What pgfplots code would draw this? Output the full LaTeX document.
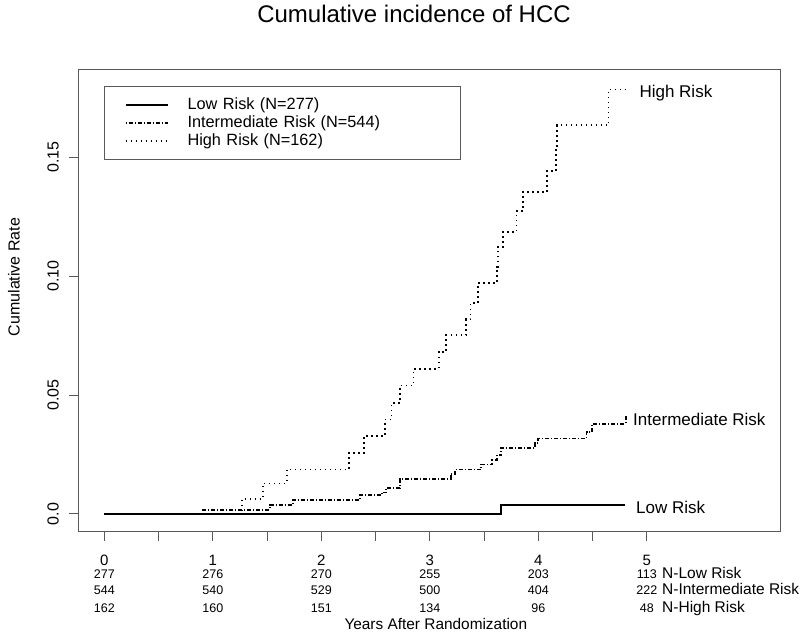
\documentclass[border=0pt]{standalone}
\usepackage{fontspec}
\setmainfont{Liberation Sans}
\usepackage{pgfplots}
\pgfplotsset{compat=1.18}
\begin{document}
\begin{tikzpicture}[x=1pt,y=1pt]
\useasboundingbox (0,0) rectangle (800,633);
\begin{axis}[
  at={(78.3pt,101.7pt)}, anchor=south west,
  scale only axis, width=702.4pt, height=462.3pt,
  xmin=-0.24, xmax=6.234, ymin=-0.0073, ymax=0.1871,
  clip=false,
  axis line style={draw=black!65, line width=0.9pt},
  tick align=outside, tick pos=left,
  major tick length=9.5pt,
  xtick={0,0.5,1,1.5,2,2.5,3,3.5,4,4.5,5}, xticklabels={},
  ytick={0,0.05,0.10,0.15}, yticklabels={},
  tick style={draw=black!65, line width=0.9pt},
  title={Cumulative incidence of HCC},
  title style={at={(axis description cs:0.478,1.106)}, anchor=center, font=\fontsize{24}{28}\selectfont},
  ylabel={Cumulative Rate},
  ylabel style={at={(axis description cs:-0.0915,0.55)}, anchor=center, rotate=0, font=\fontsize{16}{19}\selectfont},
  legend style={at={(rel axis cs:0.037,0.9639)}, anchor=north west,
    draw=black!65, line width=0.9pt, inner xsep=20pt, inner ysep=9.8pt,
    font=\fontsize{16.3}{19}\selectfont,
    nodes={inner sep=0pt, text height=13.7pt, text depth=4.3pt, text width=253pt, align=left},
    cells={anchor=west}},
  legend image code/.code={\draw[#1] (0pt,0pt) -- (42pt,0pt); \path (61pt,0pt);},
]
\addplot[const plot, black, line width=1.8pt] coordinates {
 (0,0) (3.653,0.0037) (4.80,0.0037)};
\addlegendentry{Low Risk (N=277)}
\addplot[const plot, black, line width=1.8pt, dash pattern=on 1pt off 2pt on 4pt off 2pt] coordinates {
 (0,0) (0.909,0.0018) (1.525,0.0037) (1.737,0.0058) (2.354,0.0078) (2.556,0.0090)
 (2.596,0.0109) (2.727,0.0147) (3.192,0.0168) (3.232,0.0187) (3.475,0.0208)
 (3.576,0.0226) (3.616,0.0247) (3.657,0.0278) (3.970,0.0299) (4.000,0.0317)
 (4.444,0.0345) (4.495,0.0378) (4.805,0.0408) (4.808,0.0408)};
\addlegendentry{Intermediate Risk (N=544)}
\addplot[const plot, black, line width=1.8pt, dash pattern=on 1.5pt off 3.5pt] coordinates {
 (0,0) (1.267,0.0062) (1.460,0.0128) (1.681,0.0187) (2.258,0.0257) (2.394,0.0328)
 (2.586,0.0397) (2.647,0.0467) (2.727,0.0540) (2.849,0.0611) (3.081,0.0681)
 (3.152,0.0751) (3.333,0.0819) (3.374,0.0887) (3.445,0.0971) (3.621,0.1040)
 (3.626,0.1123) (3.677,0.1186) (3.798,0.1274) (3.859,0.1354) (4.081,0.1442)
 (4.162,0.1540) (4.172,0.1634) (4.647,0.1785) (4.805,0.1785)};
\addlegendentry{High Risk (N=162)}
% y tick labels
\node[rotate=90, anchor=center, font=\fontsize{16}{19}\selectfont] at (axis cs:-0.4728,0) {0.0};
\node[rotate=90, anchor=center, font=\fontsize{16}{19}\selectfont] at (axis cs:-0.4728,0.05) {0.05};
\node[rotate=90, anchor=center, font=\fontsize{16}{19}\selectfont] at (axis cs:-0.4728,0.10) {0.10};
\node[rotate=90, anchor=center, font=\fontsize{16}{19}\selectfont] at (axis cs:-0.4728,0.15) {0.15};
% end labels
\node[anchor=west, inner sep=0pt, font=\fontsize{17}{20}\selectfont] at (axis cs:4.931,0.1768) {High Risk};
\node[anchor=west, inner sep=0pt, font=\fontsize{17}{20}\selectfont] at (axis cs:4.873,0.0398) {Intermediate Risk};
\node[anchor=west, inner sep=0pt, font=\fontsize{17}{20}\selectfont] at (axis cs:4.900,0.0028) {Low Risk};
% x tick labels
\node[anchor=base, inner sep=0pt, font=\fontsize{15}{18}\selectfont] at (axis cs:0,-0.02174) {0};
\node[anchor=base, inner sep=0pt, font=\fontsize{15}{18}\selectfont] at (axis cs:1,-0.02174) {1};
\node[anchor=base, inner sep=0pt, font=\fontsize{15}{18}\selectfont] at (axis cs:2,-0.02174) {2};
\node[anchor=base, inner sep=0pt, font=\fontsize{15}{18}\selectfont] at (axis cs:3,-0.02174) {3};
\node[anchor=base, inner sep=0pt, font=\fontsize{15}{18}\selectfont] at (axis cs:4,-0.02174) {4};
\node[anchor=base, inner sep=0pt, font=\fontsize{15}{18}\selectfont] at (axis cs:5,-0.02174) {5};
% numbers at risk
\node[anchor=base, inner sep=0pt, font=\fontsize{12.5}{15}\selectfont] at (axis cs:0,-0.02704) {277};
\node[anchor=base, inner sep=0pt, font=\fontsize{12.5}{15}\selectfont] at (axis cs:1,-0.02704) {276};
\node[anchor=base, inner sep=0pt, font=\fontsize{12.5}{15}\selectfont] at (axis cs:2,-0.02704) {270};
\node[anchor=base, inner sep=0pt, font=\fontsize{12.5}{15}\selectfont] at (axis cs:3,-0.02704) {255};
\node[anchor=base, inner sep=0pt, font=\fontsize{12.5}{15}\selectfont] at (axis cs:4,-0.02704) {203};
\node[anchor=base, inner sep=0pt, font=\fontsize{12.5}{15}\selectfont] at (axis cs:5,-0.02704) {113};
\node[anchor=base, inner sep=0pt, font=\fontsize{12.5}{15}\selectfont] at (axis cs:0,-0.03406) {544};
\node[anchor=base, inner sep=0pt, font=\fontsize{12.5}{15}\selectfont] at (axis cs:1,-0.03406) {540};
\node[anchor=base, inner sep=0pt, font=\fontsize{12.5}{15}\selectfont] at (axis cs:2,-0.03406) {529};
\node[anchor=base, inner sep=0pt, font=\fontsize{12.5}{15}\selectfont] at (axis cs:3,-0.03406) {500};
\node[anchor=base, inner sep=0pt, font=\fontsize{12.5}{15}\selectfont] at (axis cs:4,-0.03406) {404};
\node[anchor=base, inner sep=0pt, font=\fontsize{12.5}{15}\selectfont] at (axis cs:5,-0.03406) {222};
\node[anchor=base, inner sep=0pt, font=\fontsize{12.5}{15}\selectfont] at (axis cs:0,-0.04134) {162};
\node[anchor=base, inner sep=0pt, font=\fontsize{12.5}{15}\selectfont] at (axis cs:1,-0.04134) {160};
\node[anchor=base, inner sep=0pt, font=\fontsize{12.5}{15}\selectfont] at (axis cs:2,-0.04134) {151};
\node[anchor=base, inner sep=0pt, font=\fontsize{12.5}{15}\selectfont] at (axis cs:3,-0.04134) {134};
\node[anchor=base, inner sep=0pt, font=\fontsize{12.5}{15}\selectfont] at (axis cs:4,-0.04134) {96};
\node[anchor=base, inner sep=0pt, font=\fontsize{12.5}{15}\selectfont] at (axis cs:5,-0.04134) {48};
\node[anchor=base west, inner sep=0pt, font=\fontsize{15.5}{18}\selectfont] at (axis cs:5.14,-0.02704) {N-Low Risk};
\node[anchor=base west, inner sep=0pt, font=\fontsize{15.5}{18}\selectfont] at (axis cs:5.14,-0.03406) {N-Intermediate Risk};
\node[anchor=base west, inner sep=0pt, font=\fontsize{15.5}{18}\selectfont] at (axis cs:5.14,-0.04134) {N-High Risk};
% x axis label
\node[anchor=base west, inner sep=0pt, font=\fontsize{15.4}{18}\selectfont] at (axis cs:2.2117,-0.04849) {Years After Randomization};
\end{axis}
\end{tikzpicture}
\end{document}
